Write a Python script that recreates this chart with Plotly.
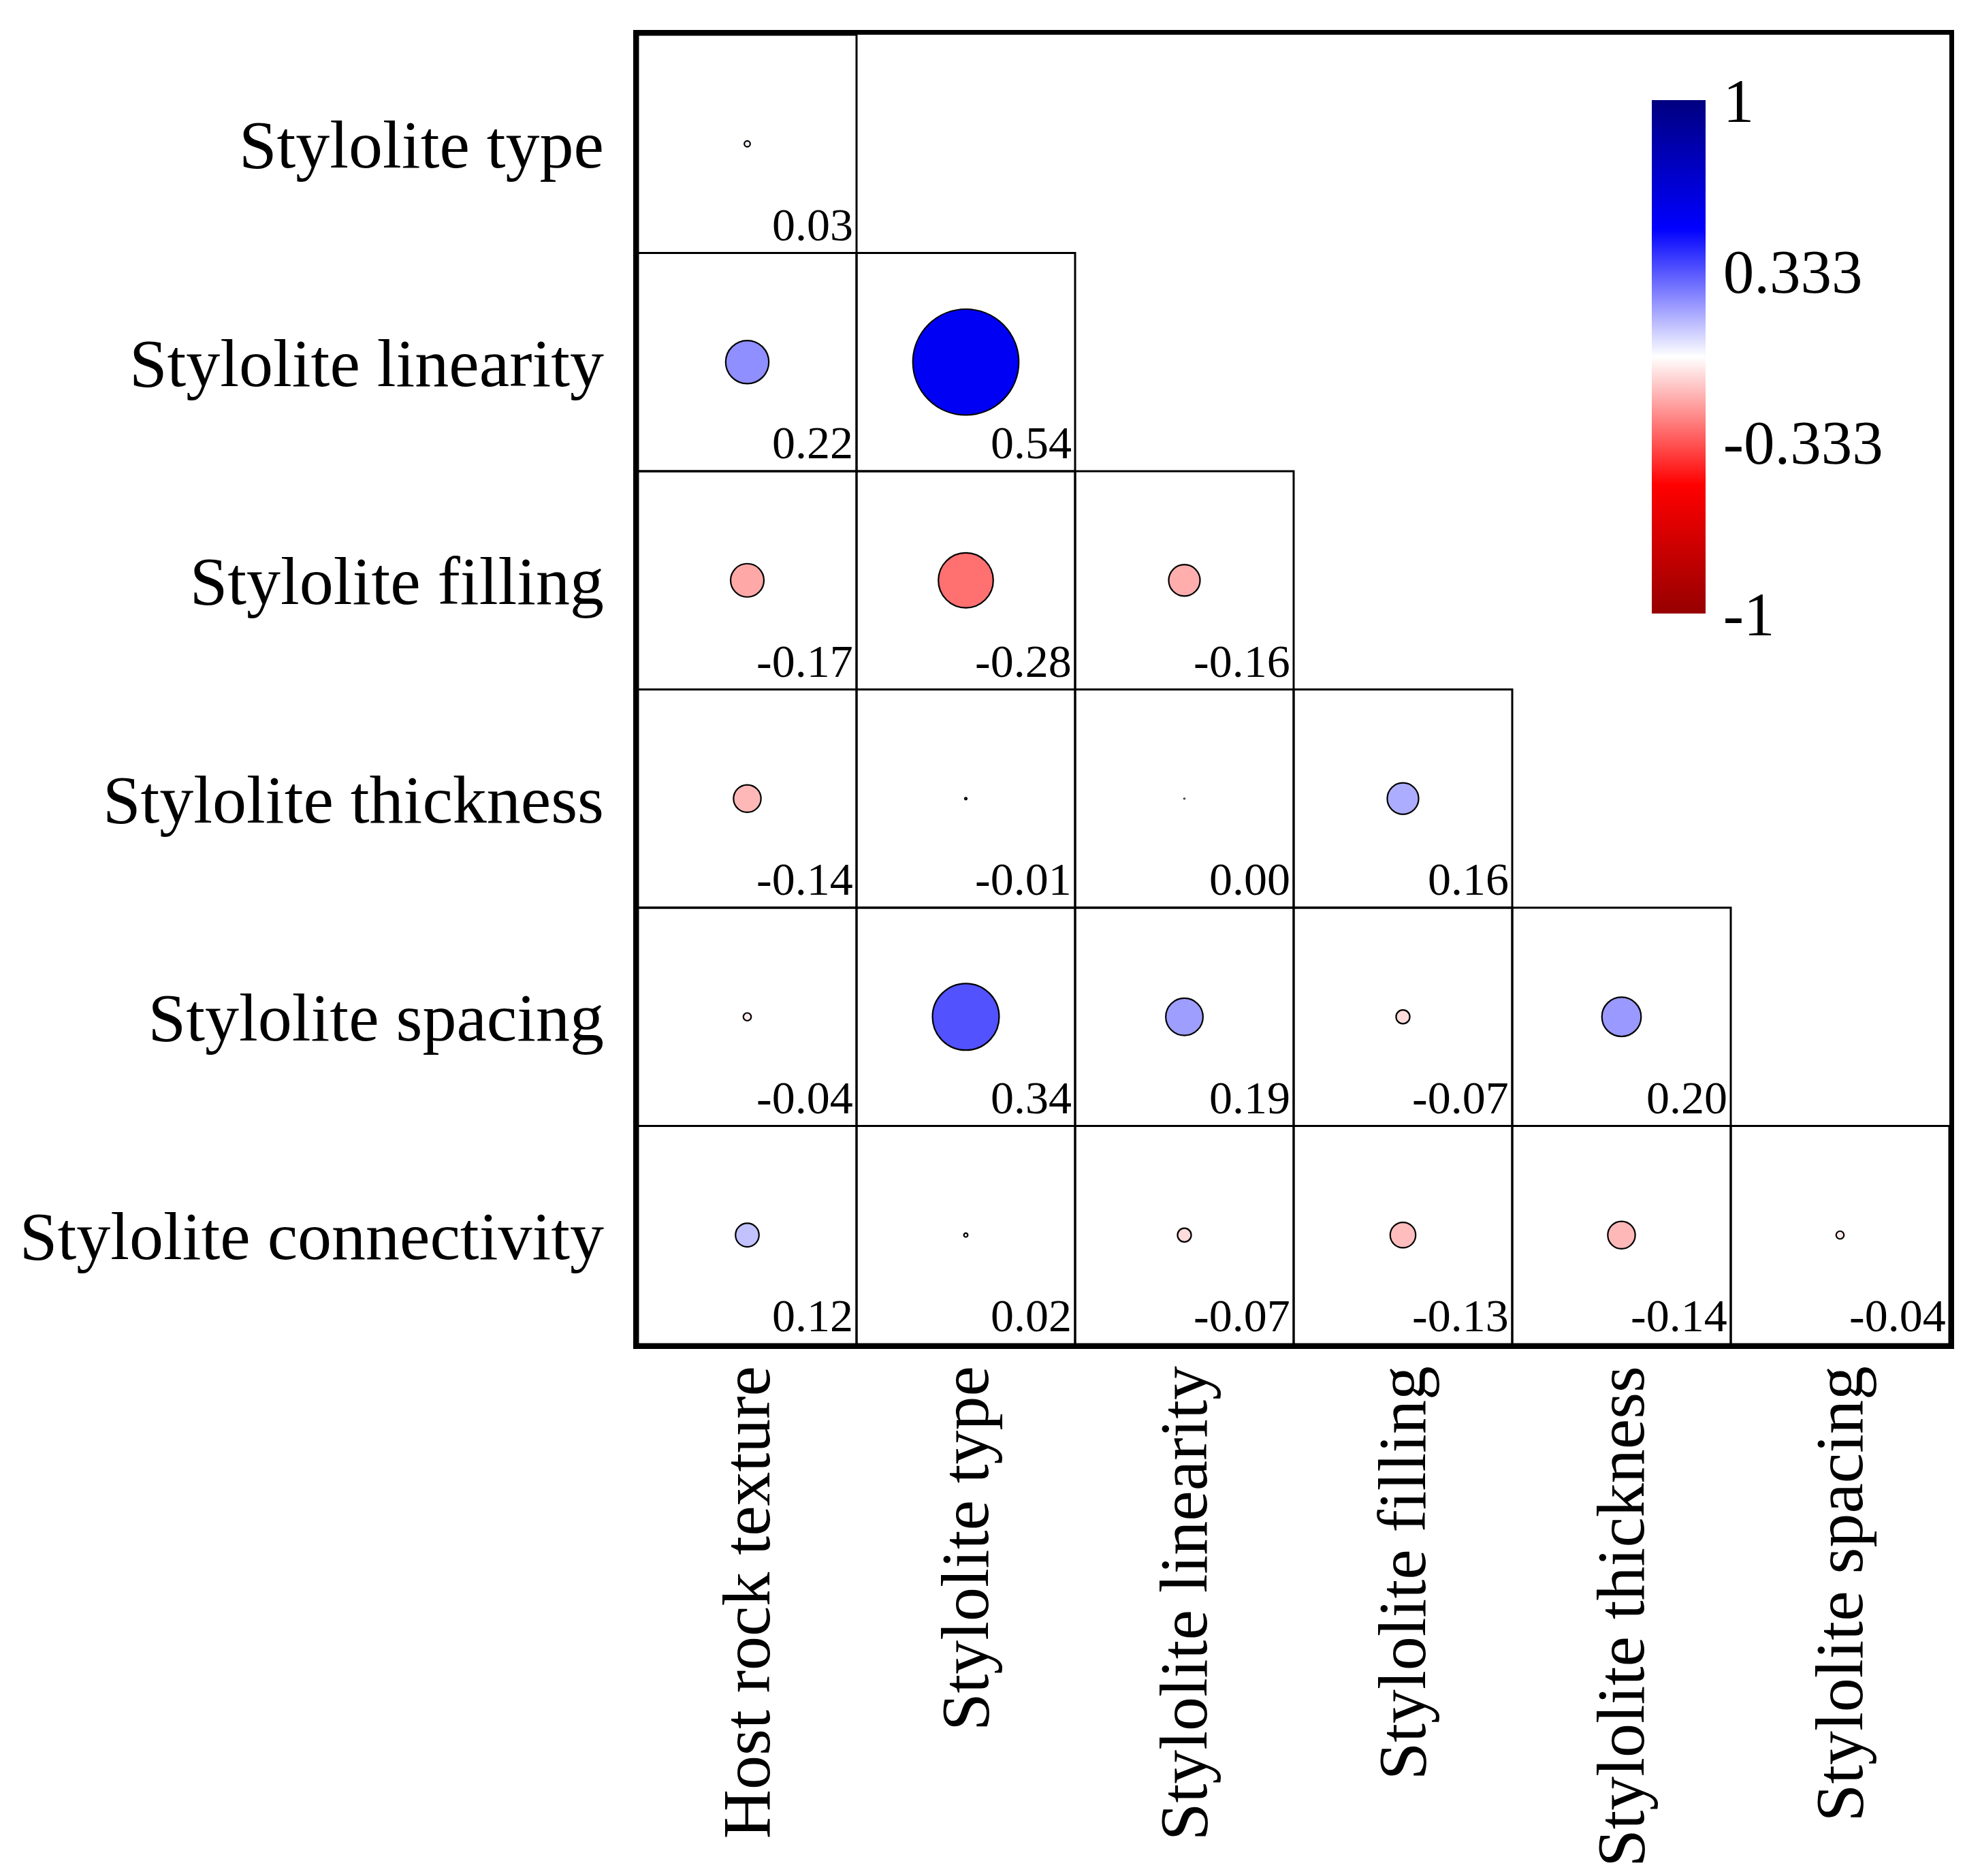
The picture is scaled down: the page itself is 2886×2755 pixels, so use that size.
import plotly.graph_objects as go

x_labels = ["Host rock texture", "Stylolite type", "Stylolite linearity",
            "Stylolite filling", "Stylolite thickness", "Stylolite spacing"]
y_labels = ["Stylolite type", "Stylolite linearity", "Stylolite filling",
            "Stylolite thickness", "Stylolite spacing", "Stylolite connectivity"]

row_type = [0.03]
row_linearity = [0.22, 0.54]
row_filling = [-0.17, -0.28, -0.16]
row_thickness = [-0.14, -0.01, 0.00, 0.16]
row_spacing = [-0.04, 0.34, 0.19, -0.07, 0.20]
row_connectivity = [0.12, 0.02, -0.07, -0.13, -0.14, -0.04]

cbar_ticks = [-1, -0.333, 0.333, 1]
cbar_text = ["-1", "-0.333", "0.333", "1"]

rows = [row_type, row_linearity, row_filling, row_thickness, row_spacing, row_connectivity]

FONT = "Liberation Serif, Times New Roman, serif"
W, H = 2886, 2755
ML, MR, MT, MB = 929, 31, 43, 789
SIZE_SCALE = 288

xs, ys, vals, sizes = [], [], [], []
for i, row in enumerate(rows):
    for j, v in enumerate(row):
        xs.append(x_labels[j])
        ys.append(y_labels[i])
        vals.append(v)
        sizes.append(max(SIZE_SCALE * abs(v), 1))

colorscale = [
    [0.0, "rgb(150,0,0)"],
    [0.25, "rgb(255,0,0)"],
    [0.5, "rgb(255,255,255)"],
    [0.75, "rgb(0,0,255)"],
    [1.0, "rgb(0,0,128)"],
]

plot_h = H - MT - MB
plot_w = W - ML - MR
cb_top_px, cb_bot_px = 139, 893
cb_left_px = 2418

fig = go.Figure()
fig.add_trace(go.Scatter(
    x=xs, y=ys, mode="markers",
    marker=dict(
        size=sizes, sizemode="diameter", opacity=1,
        color=vals, colorscale=colorscale, cmin=-1, cmax=1,
        line=dict(color="black", width=2.2),
        showscale=True,
        colorbar=dict(
            x=(cb_left_px - ML) / plot_w, xanchor="left", xpad=0,
            y=1 - ((cb_top_px + cb_bot_px) / 2 - MT) / plot_h, yanchor="middle", ypad=0,
            len=(cb_bot_px - cb_top_px) / plot_h, lenmode="fraction",
            thickness=79, outlinewidth=0,
            tickvals=cbar_ticks, ticktext=cbar_text,
            ticks="outside", ticklen=8, tickcolor="rgba(0,0,0,0)",
            tickfont=dict(family=FONT, size=91, color="black"),
        ),
    ),
    hoverinfo="skip", showlegend=False,
))

shapes = []
annotations = []
for i, row in enumerate(rows):
    for j, v in enumerate(row):
        shapes.append(dict(type="rect", xref="x", yref="y",
                           x0=j - 0.5, x1=j + 0.5, y0=i - 0.5, y1=i + 0.5,
                           line=dict(color="black", width=3), layer="below"))
        annotations.append(dict(x=j + 0.5, y=i + 0.5, xref="x", yref="y",
                                text=f"{v:.2f}", showarrow=False,
                                xanchor="right", yanchor="bottom", xshift=-3, yshift=2,
                                font=dict(family=FONT, size=68, color="black")))

fig.update_layout(
    width=W, height=H, autosize=False,
    margin=dict(l=ML, r=MR, t=MT, b=MB, autoexpand=False),
    paper_bgcolor="white", plot_bgcolor="white",
    shapes=shapes, annotations=annotations,
    font=dict(family=FONT, color="black"),
)
fig.update_xaxes(type="category", categoryorder="array", categoryarray=x_labels,
                 range=[-0.5, 5.5], showgrid=False, zeroline=False, automargin=False,
                 showline=True, mirror=True, linecolor="black", linewidth=7,
                 ticks="", tickangle=-90, ticklabelstandoff=-15,
                 tickfont=dict(family=FONT, size=100, color="black"))
fig.update_yaxes(type="category", categoryorder="array", categoryarray=y_labels,
                 range=[5.5, -0.5], showgrid=False, zeroline=False, automargin=False,
                 showline=True, mirror=True, linecolor="black", linewidth=7,
                 ticks="", ticklabelstandoff=23,
                 tickfont=dict(family=FONT, size=100, color="black"))

fig.write_html("out.html")
